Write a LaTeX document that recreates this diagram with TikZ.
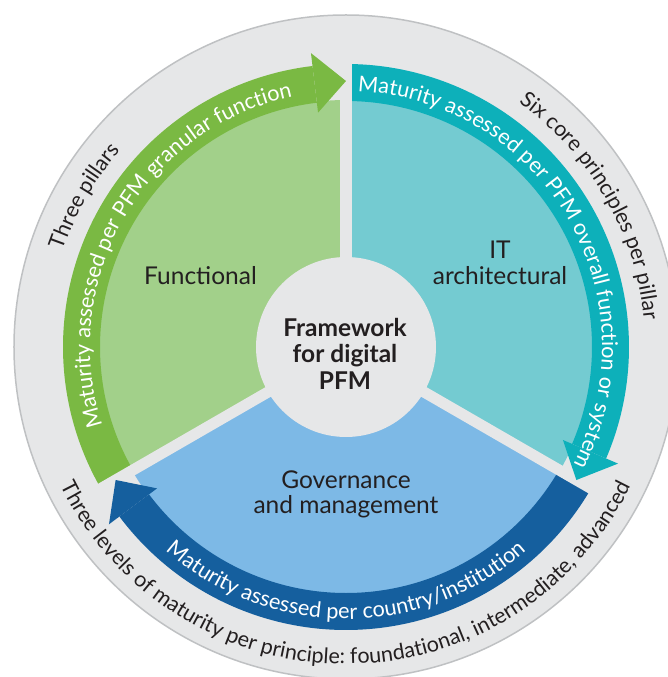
\documentclass[tikz,border=0pt]{standalone}
\usepackage{fontspec}
\setmainfont{Lato}
\usetikzlibrary{decorations.text}
\definecolor{ringgray}{HTML}{E6E7E8}
\definecolor{ringedge}{HTML}{BFC1C3}
\definecolor{greenlight}{HTML}{A2D08A}
\definecolor{greendark}{HTML}{7AB943}
\definecolor{teallight}{HTML}{74CBD1}
\definecolor{tealdark}{HTML}{0DB0BA}
\definecolor{bluelight}{HTML}{7DB9E6}
\definecolor{bluedark}{HTML}{155F9E}
\definecolor{ink}{HTML}{231F20}
\tikzset{
  lbl/.style={font=\fontsize{24.5}{28}\selectfont, text=ink, anchor=base, inner sep=0pt},
  lblbold/.style={font=\fontsize{24.5}{28}\selectfont\bfseries, text=ink, anchor=base, inner sep=0pt},
  ringtext/.style={decorate, decoration={text along path, text align=center, text color=ink, text={|\fontsize{21.5}{25}\selectfont|#1}}},
  bandtext/.style={decorate, decoration={text along path, text align=center, text color=white, text={|\fontsize{21.7}{25}\selectfont|#1}}},
  gapline/.style={ringgray, line width=11pt},
}
\begin{document}
\begin{tikzpicture}[x=1pt,y=1pt]
\useasboundingbox (-346pt,-330pt) rectangle (322pt,347pt);
\clip (-346pt,-330pt) rectangle (322pt,347pt);
% outer ring
\filldraw[fill=ringgray, draw=ringedge, line width=1.5pt] (0,0) circle (332pt);
% light sectors
\fill[greenlight] (0,0) -- (90:247pt) arc[start angle=90, end angle=210, radius=247pt] -- cycle;
\fill[teallight] (0,0) -- (-30:247pt) arc[start angle=-30, end angle=90, radius=247pt] -- cycle;
\fill[bluelight] (0,0) -- (210:247pt) arc[start angle=210, end angle=330, radius=247pt] -- cycle;
% bands
\fill[greendark] (210:246pt) arc[start angle=210, end angle=96.8, radius=246pt] -- (96.8:283pt) arc[start angle=96.8, end angle=210, radius=283pt] -- cycle;
\fill[tealdark] (90:246pt) arc[start angle=90, end angle=-23.2, radius=246pt] -- (-23.2:283pt) arc[start angle=-23.2, end angle=90, radius=283pt] -- cycle;
\fill[bluedark] (330:246pt) arc[start angle=330, end angle=216.8, radius=246pt] -- (216.8:283pt) arc[start angle=216.8, end angle=330, radius=283pt] -- cycle;
% gaps
\draw[gapline] (0,0) -- (90:286pt);
\draw[gapline] (0,0) -- (210:286pt);
\draw[gapline] (0,0) -- (330:286pt);
% arrow heads
\fill[greendark] (96.8:236pt) -- (96.8:296pt) -- (90:266pt) -- cycle;
\fill[tealdark] (-23.2:236pt) -- (-23.2:296pt) -- (-30:266pt) -- cycle;
\fill[bluedark] (216.8:236pt) -- (216.8:296pt) -- (210:266pt) -- cycle;
% centre
\fill[ringgray] (0,0) circle (90pt);
% labels
\node[lblbold] (fw1) at (-1pt,10.5pt) {Framework};
\node[lblbold] (fw2) at (-1pt,-15.5pt) {for digital};
\node[lblbold] (fw3) at (-1pt,-42pt) {PFM};
\node[lbl] (func) at (-145.5pt,62pt) {Functional};
\node[lbl] (it1) at (154pt,88.7pt) {IT};
\node[lbl] (it2) at (154pt,62pt) {architectural};
\node[lbl] (gov1) at (0pt,-141pt) {Governance};
\node[lbl] (gov2) at (0pt,-166.4pt) {and management};
% curved texts
\path[bandtext={Maturity assessed per PFM granular function}] (240:256pt) arc[start angle=240, end angle=60, radius=256pt];
\path[bandtext={Maturity assessed per PFM overall function or system}] (120:256pt) arc[start angle=120, end angle=-60, radius=256pt];
\path[bandtext={Maturity assessed per country/institution}] (180:272pt) arc[start angle=180, end angle=360, radius=272pt];
\path[ringtext={Three pillars}] (240:299pt) arc[start angle=240, end angle=60, radius=299pt];
\path[ringtext={Six core principles per pillar}] (120:299pt) arc[start angle=120, end angle=-60, radius=299pt];
\path[ringtext={Three levels of maturity per principle: foundational, intermediate, advanced}] (180:317pt) arc[start angle=180, end angle=360, radius=317pt];
\end{tikzpicture}
\end{document}
